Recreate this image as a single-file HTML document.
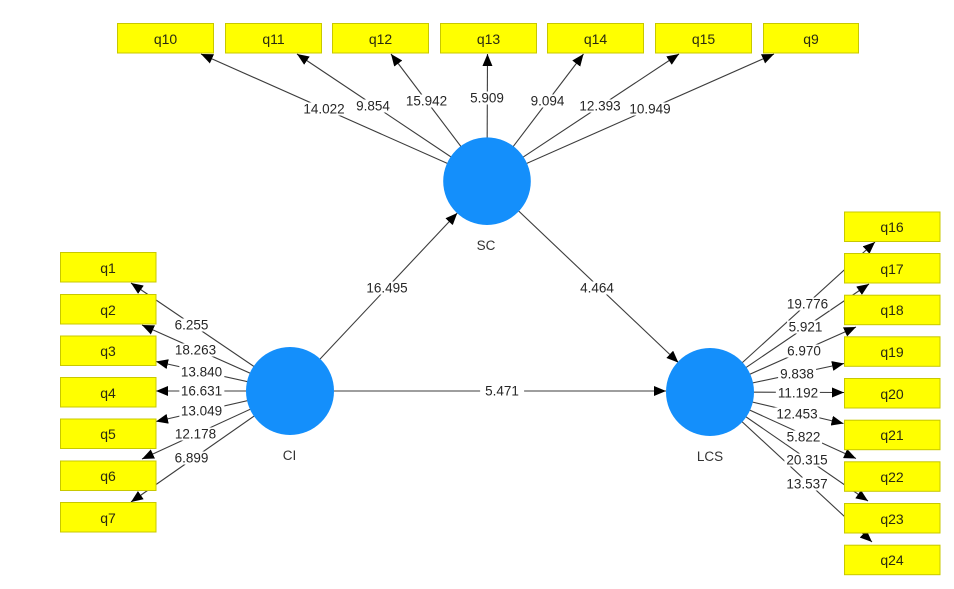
<!DOCTYPE html>
<html>
<head>
<meta charset="utf-8">
<style>
  html,body{margin:0;padding:0;background:#fff;}
  #wrap{position:relative;width:954px;height:589px;overflow:hidden;background:#fff;font-family:"Liberation Sans",Arial,sans-serif;}
  svg{position:absolute;left:0;top:0;}
  .lb{position:absolute;transform:translate(-50%,-50%);background:#fff;font-size:13.5px;line-height:13px;padding:0 2px;color:#262626;white-space:nowrap;}
  .nl{position:absolute;transform:translate(-50%,-50%);font-size:13.5px;line-height:14px;color:#333;white-space:nowrap;}
  .bx{position:absolute;transform:translate(-50%,-50%);font-size:14px;line-height:14px;color:#2a2a10;white-space:nowrap;}
</style>
</head>
<body>
<div id="wrap">
<svg width="954" height="589" viewBox="0 0 954 589" xmlns="http://www.w3.org/2000/svg">
  <defs>
    <marker id="ar" markerUnits="userSpaceOnUse" markerWidth="12" markerHeight="10" refX="12" refY="5" orient="auto">
      <path d="M0,0 L12,5 L0,10 Z" fill="#000"/>
    </marker>
  </defs>
  <g stroke="#3c3c3c" stroke-width="1.1" fill="none" marker-end="url(#ar)">
    <!-- SC outer -->
    <line x1="487" y1="181" x2="201" y2="54"/>
    <line x1="487" y1="181" x2="297" y2="54"/>
    <line x1="487" y1="181" x2="391" y2="54"/>
    <line x1="487" y1="181" x2="487.5" y2="54"/>
    <line x1="487" y1="181" x2="583.5" y2="54"/>
    <line x1="487" y1="181" x2="679" y2="54"/>
    <line x1="487" y1="181" x2="774" y2="54"/>
    <!-- CI outer -->
    <line x1="290" y1="391" x2="131" y2="283"/>
    <line x1="290" y1="391" x2="142" y2="325"/>
    <line x1="290" y1="391" x2="156" y2="361.5"/>
    <line x1="290" y1="391" x2="156" y2="391"/>
    <line x1="290" y1="391" x2="156" y2="421.5"/>
    <line x1="290" y1="391" x2="142" y2="459"/>
    <line x1="290" y1="391" x2="131" y2="502"/>
    <!-- LCS outer -->
    <line x1="710" y1="392" x2="875" y2="242"/>
    <line x1="710" y1="392" x2="869" y2="284"/>
    <line x1="710" y1="392" x2="856" y2="327"/>
    <line x1="710" y1="392" x2="844" y2="363.5"/>
    <line x1="710" y1="392" x2="844" y2="392.5"/>
    <line x1="710" y1="392" x2="843.5" y2="423.5"/>
    <line x1="710" y1="392" x2="856" y2="458.5"/>
    <line x1="710" y1="392" x2="868" y2="501"/>
    <line x1="710" y1="392" x2="872" y2="542"/>
    <!-- structural -->
    <line x1="290" y1="391" x2="457.3" y2="213"/>
    <line x1="487" y1="181" x2="678.4" y2="362.6"/>
    <line x1="290" y1="391" x2="666" y2="391"/>
  </g>
  <!-- boxes -->
  <g fill="#ffff00" stroke="#c8c800" stroke-width="1">
    <rect x="117.5" y="23.5" width="96" height="29.5"/>
    <rect x="225.5" y="23.5" width="96" height="29.5"/>
    <rect x="332.5" y="23.5" width="96" height="29.5"/>
    <rect x="440.5" y="23.5" width="96" height="29.5"/>
    <rect x="547.5" y="23.5" width="96" height="29.5"/>
    <rect x="655.5" y="23.5" width="96" height="29.5"/>
    <rect x="763.5" y="23.5" width="95" height="29.5"/>

    <rect x="60.5" y="252.5" width="95.5" height="29.5"/>
    <rect x="60.5" y="294.5" width="95.5" height="29.5"/>
    <rect x="60.5" y="336" width="95.5" height="29.5"/>
    <rect x="60.5" y="377.5" width="95.5" height="29.5"/>
    <rect x="60.5" y="419" width="95.5" height="29.5"/>
    <rect x="60.5" y="461" width="95.5" height="29.5"/>
    <rect x="60.5" y="502.5" width="95.5" height="29.5"/>

    <rect x="844.5" y="212" width="95.5" height="29.5"/>
    <rect x="844.5" y="253.5" width="95.5" height="29.5"/>
    <rect x="844.5" y="295.2" width="95.5" height="29.5"/>
    <rect x="844.5" y="336.8" width="95.5" height="29.5"/>
    <rect x="844.5" y="378.5" width="95.5" height="29.5"/>
    <rect x="844.5" y="420.2" width="95.5" height="29.5"/>
    <rect x="844.5" y="461.8" width="95.5" height="29.5"/>
    <rect x="844.5" y="503.5" width="95.5" height="29.5"/>
    <rect x="844.5" y="545.2" width="95.5" height="29.5"/>
  </g>
  <!-- circles -->
  <g fill="#148ffb">
    <circle cx="487" cy="181.2" r="43.8"/>
    <circle cx="290" cy="391" r="44"/>
    <circle cx="710" cy="392" r="44"/>
  </g>
</svg>

<!-- box labels -->
<div class="bx" style="left:165.5px;top:38.5px">q10</div>
<div class="bx" style="left:273.5px;top:38.5px">q11</div>
<div class="bx" style="left:380.5px;top:38.5px">q12</div>
<div class="bx" style="left:488.5px;top:38.5px">q13</div>
<div class="bx" style="left:595.5px;top:38.5px">q14</div>
<div class="bx" style="left:703.5px;top:38.5px">q15</div>
<div class="bx" style="left:811px;top:38.5px">q9</div>

<div class="bx" style="left:108px;top:267.5px">q1</div>
<div class="bx" style="left:108px;top:309.5px">q2</div>
<div class="bx" style="left:108px;top:351px">q3</div>
<div class="bx" style="left:108px;top:392.5px">q4</div>
<div class="bx" style="left:108px;top:434px">q5</div>
<div class="bx" style="left:108px;top:476px">q6</div>
<div class="bx" style="left:108px;top:517.5px">q7</div>

<div class="bx" style="left:892px;top:227px">q16</div>
<div class="bx" style="left:892px;top:268.5px">q17</div>
<div class="bx" style="left:892px;top:310.2px">q18</div>
<div class="bx" style="left:892px;top:351.8px">q19</div>
<div class="bx" style="left:892px;top:393.5px">q20</div>
<div class="bx" style="left:892px;top:435.2px">q21</div>
<div class="bx" style="left:892px;top:476.8px">q22</div>
<div class="bx" style="left:892px;top:518.5px">q23</div>
<div class="bx" style="left:892px;top:560.2px">q24</div>

<!-- node labels -->
<div class="nl" style="left:486px;top:245.5px">SC</div>
<div class="nl" style="left:289.5px;top:455.5px">CI</div>
<div class="nl" style="left:710px;top:456.5px">LCS</div>

<!-- path labels -->
<div class="lb" style="left:324px;top:108.5px">14.022</div>
<div class="lb" style="left:373px;top:105.5px">9.854</div>
<div class="lb" style="left:426.5px;top:100.5px">15.942</div>
<div class="lb" style="left:487px;top:97.5px">5.909</div>
<div class="lb" style="left:547.5px;top:100.5px">9.094</div>
<div class="lb" style="left:600px;top:105.5px">12.393</div>
<div class="lb" style="left:650px;top:109px">10.949</div>

<div class="lb" style="left:191.5px;top:324.5px">6.255</div>
<div class="lb" style="left:195.5px;top:349.5px">18.263</div>
<div class="lb" style="left:201.5px;top:371.5px">13.840</div>
<div class="lb" style="left:201.5px;top:391px">16.631</div>
<div class="lb" style="left:201.5px;top:411px">13.049</div>
<div class="lb" style="left:195.5px;top:434px">12.178</div>
<div class="lb" style="left:191.5px;top:457.5px">6.899</div>

<div class="lb" style="left:807.5px;top:303.5px">19.776</div>
<div class="lb" style="left:805.5px;top:326.5px">5.921</div>
<div class="lb" style="left:804px;top:351px">6.970</div>
<div class="lb" style="left:797px;top:373.5px">9.838</div>
<div class="lb" style="left:798px;top:392.5px">11.192</div>
<div class="lb" style="left:797px;top:413.5px">12.453</div>
<div class="lb" style="left:803.5px;top:436.5px">5.822</div>
<div class="lb" style="left:807px;top:459.5px">20.315</div>
<div class="lb" style="left:807px;top:483.5px">13.537</div>

<div class="lb" style="left:387px;top:287.5px">16.495</div>
<div class="lb" style="left:597px;top:287.5px">4.464</div>
<div class="lb" style="left:502px;top:391px;padding:0 5px">5.471</div>
</div>
</body>
</html>
